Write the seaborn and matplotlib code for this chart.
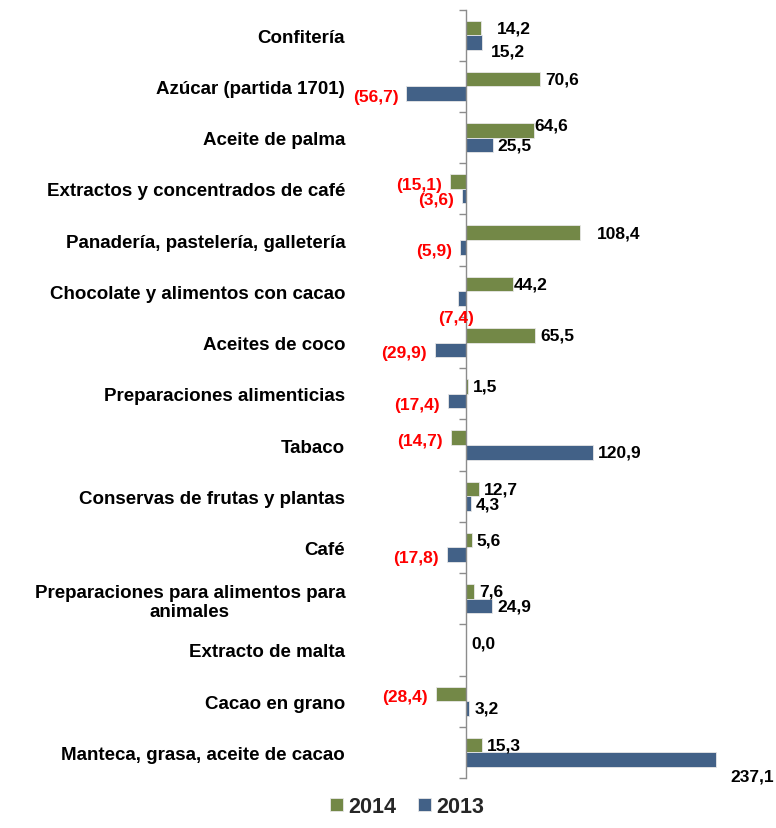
import numpy as np
import pandas as pd
import matplotlib
matplotlib.use("Agg")
import matplotlib.pyplot as plt
import seaborn as sns

categories = [
    "Confitería",
    "Azúcar (partida 1701)",
    "Aceite de palma",
    "Extractos y concentrados de café",
    "Panadería, pastelería, galletería",
    "Chocolate y alimentos con cacao",
    "Aceites de coco",
    "Preparaciones alimenticias",
    "Tabaco",
    "Conservas de frutas y plantas",
    "Café",
    "Preparaciones para alimentos para\nanimales",
    "Extracto de malta",
    "Cacao en grano",
    "Manteca, grasa, aceite de cacao",
]
values_2014 = [14.2, 70.6, 64.6, -15.1, 108.4, 44.2, 65.5, 1.5, -14.7, 12.7, 5.6, 7.6, 0.0, -28.4, 15.3]
values_2013 = [15.2, -56.7, 25.5, -3.6, -5.9, -7.4, -29.9, -17.4, 120.9, 4.3, -17.8, 24.9, np.nan, 3.2, 237.1]
years = ["2014", "2013"]
colors = {"2014": "#77933C", "2013": "#376092"}

df = pd.DataFrame({
    "categoria": categories * 2,
    "valor": values_2014 + values_2013,
    "año": ["2014"] * len(categories) + ["2013"] * len(categories),
})

sns.set_theme(style="white")
plt.rcParams["font.family"] = ["Liberation Sans", "DejaVu Sans"]
plt.rcParams["font.weight"] = "bold"

fig = plt.figure(figsize=(7.76, 8.29), dpi=100)
ax = fig.add_axes([0.5164, 0.0603, 0.4164, 0.9270])

sns.barplot(data=df, y="categoria", x="valor", hue="año", hue_order=years,
            order=categories, palette=colors, orient="h", width=0.57,
            edgecolor="#e8e8e8", linewidth=0.6, ax=ax, legend=True)

ax.set_xlim(-62, 245)
ax.set_ylim(len(categories) - 0.5, -0.5)
ax.set_xlabel("")
ax.set_ylabel("")
ax.set_xticks([])
for s in ["top", "right", "bottom"]:
    ax.spines[s].set_visible(False)
ax.spines["left"].set_position(("data", 0))
ax.spines["left"].set_color("#8c8c8c")
ax.spines["left"].set_linewidth(1.0)

# category boundary ticks on the zero line, labels pushed to the left
ax.set_yticks(np.arange(len(categories) + 1) - 0.5, minor=True)
ax.tick_params(axis="y", which="minor", length=5, width=1, color="#8c8c8c",
               direction="out", left=True)
ax.tick_params(axis="y", which="major", length=0, pad=87, labelsize=13.5)
for lab in ax.get_yticklabels():
    lab.set_fontweight("bold")
    lab.set_multialignment("center")
    lab.set_color("black")

# label nudges (pixels, x right / y down), keyed by year and category index
nudges = {
    ("2014", 0): (11, 0),
    ("2013", 0): (4, 9),
    ("2014", 2): (-5, -5),
    ("2014", 4): (12, 0),
    ("2014", 5): (-4, 0),
    ("2013", 14): (10, 16),
}
LABEL_SIZE = 12.5

for year, container in zip(years, ax.containers):
    for bar in container:
        w = bar.get_width()
        if np.isnan(w):
            continue
        yc = bar.get_y() + bar.get_height() / 2
        idx = int(round(yc))
        txt = f"{abs(w):.1f}".replace(".", ",")
        dx, dy = nudges.get((year, idx), (0, 0))
        if year == "2013" and idx == 5:
            ax.annotate(f"({txt})", xy=(w, yc), xytext=(-2 * 0.72, -19 * 0.72),
                        textcoords="offset points", ha="center", va="center",
                        color="#ff0000", fontsize=LABEL_SIZE, fontweight="bold")
            continue
        if w >= 0:
            ax.annotate(txt, xy=(w, yc), xytext=((5 + dx) * 0.72, -dy * 0.72),
                        textcoords="offset points", ha="left", va="center",
                        color="black", fontsize=LABEL_SIZE, fontweight="bold",
                        annotation_clip=False)
        else:
            ax.annotate(f"({txt})", xy=(w, yc), xytext=((-8 + dx) * 0.72, -(3 + dy) * 0.72),
                        textcoords="offset points", ha="right", va="center",
                        color="#ff0000", fontsize=LABEL_SIZE, fontweight="bold")

handles, labels = ax.get_legend_handles_labels()
ax.legend(handles, labels, loc="lower center", bbox_to_anchor=(0.525, 0.0),
          bbox_transform=fig.transFigure, ncol=2, frameon=False,
          prop={"size": 15.5, "weight": "bold"}, handlelength=0.6, handleheight=0.6,
          handletextpad=0.25, columnspacing=1.0, borderaxespad=0.1)

fig.savefig("out.png", dpi=100)
